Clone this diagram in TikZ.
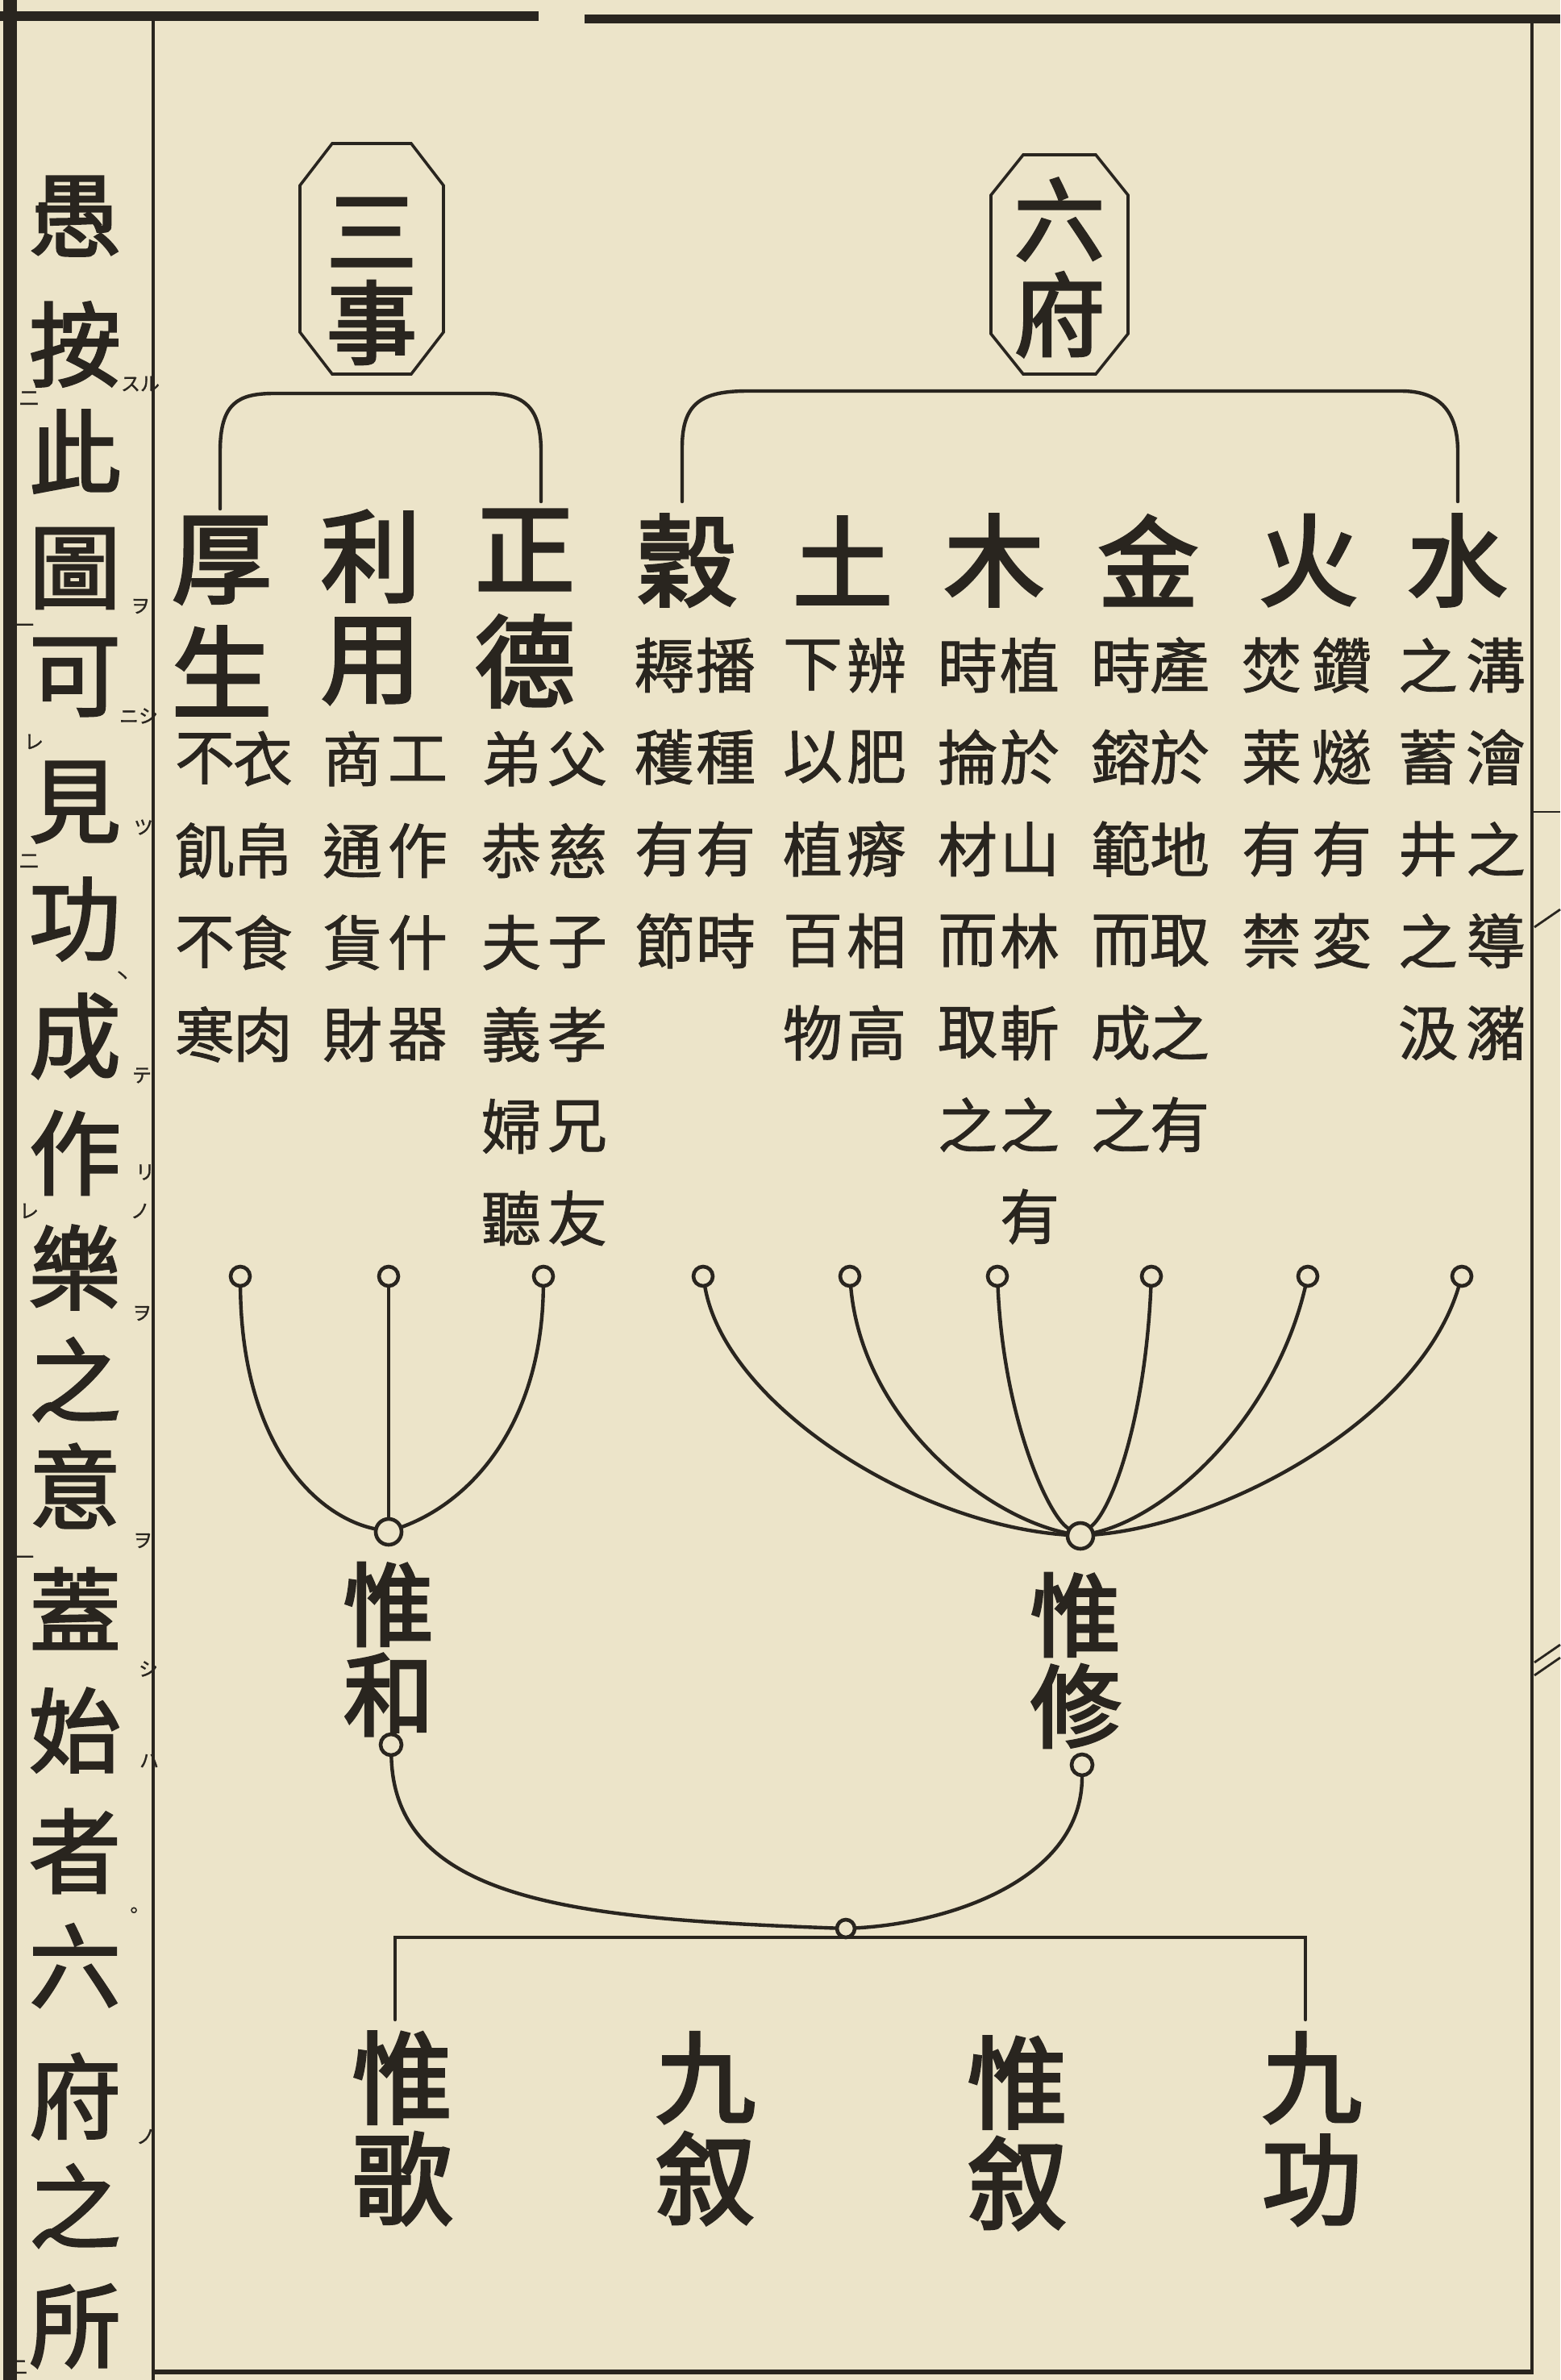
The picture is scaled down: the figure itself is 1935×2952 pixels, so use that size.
\documentclass[tikz,border=0pt]{standalone}
\usepackage{fontspec}
\newfontfamily\cjk[FakeBold=1.2]{Noto Sans CJK TC}
\newfontfamily\cjkb[FakeBold=3]{Noto Sans CJK TC}
\newfontfamily\cjkl[FakeBold=2.2]{Noto Sans CJK TC}
\definecolor{paper}{HTML}{ECE4C9}
\definecolor{inkc}{HTML}{29251F}
\newcommand\vcolumn[5]{%
  \foreach \ch [count=\k] in {#5} {\node[sm] (#1\k) at (#2,{#3+(\k-1)*#4}) {\ch};}}
\begin{document}
\begin{tikzpicture}[x=0.5pt,y=-0.5pt,
  ink/.style={draw=inkc,line width=2.2pt,line cap=round},
  rule/.style={draw=inkc,line width=2pt},
  big/.style={font=\cjkb\fontsize{62}{62}\selectfont,text=inkc,inner sep=0},
  mid/.style={font=\cjkb\fontsize{56}{56}\selectfont,text=inkc,inner sep=0},
  lft/.style={font=\cjkl\fontsize{57}{57}\selectfont,text=inkc,inner sep=0},
  boxt/.style={font=\cjkb\fontsize{56}{56}\selectfont,text=inkc,inner sep=0},
  sm/.style={font=\cjk\fontsize{37}{37}\selectfont,text=inkc,inner sep=0},
  kt/.style={font=\cjk\fontsize{12}{12}\selectfont,text=inkc,inner sep=0},
  pinc/.style={circle,draw=inkc,line width=2.3pt,minimum size=12pt,inner sep=0,fill=paper},
  hubc/.style={circle,draw=inkc,line width=2.3pt,minimum size=16pt,inner sep=0,fill=paper},
  subc/.style={circle,draw=inkc,line width=2.3pt,minimum size=13pt,inner sep=0,fill=paper}]
\useasboundingbox (0,0) rectangle (1935,2952);
\fill[paper] (0,0) rectangle (1935,2952);
% frame
\fill[inkc] (4,0) rectangle (21,2952);
\fill[inkc] (0,14) rectangle (668,26);
\fill[inkc] (725,18) rectangle (1935,29);
\draw[rule] (190,20) -- (190,2952);
\draw[rule] (1900,25) -- (1900,2945);
\draw[draw=inkc,line width=3pt] (190,2942) -- (1900,2942);
% marks from the next page
\draw[rule,line width=1.4pt] (1900,1007) -- (1935,1007);
\draw[rule,line width=1.4pt] (1903,1150) -- (1935,1128);
\draw[rule,line width=1.4pt] (1903,2062) -- (1935,2040);
\draw[rule,line width=1.4pt] (1903,2078) -- (1935,2056);
% left column text
\foreach \ch/\yy [count=\k] in {愚/268,按/427,此/560,圖/705,可/840,見/995,功/1140,成/1285,作/1430,樂/1572,之/1711,意/1843,蓋/1995,始/2146,者/2296,六/2438,府/2600,之/2736,所/2885}
  {\node[lft] (L\k) at (93,\yy) {\ch};}
\foreach \t/\xx/\yy [count=\k] in {スル/174/476,二/36/494,ヲ/174/752,一/30/779,ニシ/172/888,レ/42/920,ツ/178/1026,二/36/1068,丶/152/1212,テ/176/1334,リ/180/1454,ノ/174/1502,レ/36/1502,ヲ/176/1629,ヲ/177/1911,一/30/1935,シ/184/2070,ハ/185/2184,。/166/2372,ノ/181/2650,二/22/2936}
  {\node[kt] (K\k) at (\xx,\yy) {\t};}
% boxes
\draw[draw=inkc,line width=1.8pt] (412,178) -- (510,178) -- (550,230) -- (550,412) -- (510,464) -- (412,464) -- (372,412) -- (372,230) -- cycle;
\node[boxt] (sanA) at (461,288) {三};
\node[boxt] (sanB) at (461,400) {事};
\draw[draw=inkc,line width=1.8pt] (1269,192) -- (1359,192) -- (1399,242) -- (1399,414) -- (1359,464) -- (1269,464) -- (1229,414) -- (1229,242) -- cycle;
\node[boxt] (liuA) at (1314,272) {六};
\node[boxt] (liuB) at (1314,390) {府};
% brackets
\coordinate (s1) at (273,631);
\coordinate (s2) at (671,622);
\draw[ink] (s1) -- (273,560) .. controls (273,500) and (295,488) .. (340,488) -- (605,488) .. controls (650,488) and (671,505) .. (671,560) -- (s2);
\coordinate (f1) at (846,622);
\coordinate (f2) at (1808,622);
\draw[ink] (f1) -- (846,555) .. controls (846,500) and (870,485) .. (927,485) -- (1738,485) .. controls (1785,485) and (1808,510) .. (1808,560) -- (f2);
% three affairs
\node[big] (hou1) at (275,695) {厚};
\node[big] (hou2) at (275,832) {生};
\node[big] (li1) at (460,690) {利};
\node[big] (li2) at (460,820) {用};
\node[big] (zh1) at (651,682) {正};
\node[big] (zh2) at (651,820) {德};
\vcolumn{houR}{326}{941}{114}{衣,帛,食,肉}
\vcolumn{houL}{254}{941}{114}{不,飢,不,寒}
\vcolumn{liR}{518}{941}{114}{工,作,什,器}
\vcolumn{liL}{437}{941}{114}{商,通,貨,財}
\vcolumn{zhR}{716}{941}{114}{父,慈,子,孝,兄,友}
\vcolumn{zhL}{634}{941}{114}{弟,恭,夫,義,婦,聽}
% six stores
\node[big] (gu) at (852,695) {穀};
\node[big] (tu) at (1045,695) {土};
\node[big] (mu) at (1233,695) {木};
\node[big] (jin) at (1424,695) {金};
\node[big] (huo) at (1623,695) {火};
\node[big] (shui) at (1807,695) {水};
\vcolumn{guR}{900}{825}{114}{播,種,有,時}
\vcolumn{guL}{824}{825}{114}{耨,穫,有,節}
\vcolumn{tuR}{1087}{825}{114}{辨,肥,瘠,相,高}
\vcolumn{tuL}{1008}{825}{114}{下,以,植,百,物}
\vcolumn{muR}{1277}{825}{114}{植,於,山,林,斬,之,有}
\vcolumn{muL}{1200}{825}{114}{時,掄,材,而,取,之}
\vcolumn{jinR}{1463}{825}{114}{產,於,地,取,之,有}
\vcolumn{jinL}{1390}{825}{114}{時,鎔,範,而,成,之}
\vcolumn{huoR}{1664}{825}{114}{鑽,燧,有,変}
\vcolumn{huoL}{1577}{825}{114}{焚,莱,有,禁}
\vcolumn{shR}{1855}{825}{114}{溝,澮,之,導,瀦}
\vcolumn{shL}{1771}{825}{114}{之,蓄,井,之,汲}
% pins and hubs
\node[hubc] (hubH) at (482,1900) {};
\node[hubc] (hubX) at (1340,1905) {};
\node[pinc] (pA) at (298,1583) {};
\node[pinc] (pB) at (482,1583) {};
\node[pinc] (pC) at (674,1583) {};
\draw[ink] (pA) .. controls (300,1790) and (390,1880) .. (hubH);
\draw[ink] (pB) -- (hubH);
\draw[ink] (pC) .. controls (672,1760) and (590,1860) .. (hubH);
\node[pinc] (q1) at (872,1583) {};
\node[pinc] (q2) at (1054,1583) {};
\node[pinc] (q3) at (1237,1583) {};
\node[pinc] (q4) at (1428,1583) {};
\node[pinc] (q5) at (1622,1583) {};
\node[pinc] (q6) at (1813,1583) {};
\draw[ink] (q1) .. controls (900,1740) and (1130,1890) .. (hubX);
\draw[ink] (q2) .. controls (1070,1760) and (1220,1880) .. (hubX);
\draw[ink] (q3) .. controls (1245,1760) and (1300,1880) .. (hubX);
\draw[ink] (q4) .. controls (1420,1760) and (1380,1870) .. (hubX);
\draw[ink] (q5) .. controls (1580,1760) and (1450,1880) .. (hubX);
\draw[ink] (q6) .. controls (1760,1760) and (1520,1890) .. (hubX);
\node[mid] (weiA) at (482,1990) {惟};
\node[mid] (heA) at (482,2102) {和};
\node[mid] (weiB) at (1334,2003) {惟};
\node[mid] (xiuB) at (1334,2116) {修};
\node[subc] (wA) at (485,2164) {};
\node[subc] (xA) at (1342,2189) {};
% lower junction
\coordinate (H) at (1049,2403);
\coordinate (E1) at (490,2505);
\coordinate (E2) at (1619,2505);
\draw[ink] (E1) -- (E1 |- H) -- (E2 |- H) -- (E2);
\node[subc,minimum size=11pt] (j3) at (1049,2392) {};
\draw[ink] (wA) .. controls (490,2360) and (720,2380) .. (j3);
\draw[ink] (xA) .. controls (1342,2330) and (1180,2385) .. (j3);
% bottom
\node[big] (b1a) at (499,2577) {惟};
\node[big] (b1b) at (499,2702) {歌};
\node[big] (b2a) at (875,2577) {九};
\node[big] (b2b) at (875,2702) {叙};
\node[big] (b3a) at (1262,2583) {惟};
\node[big] (b3b) at (1262,2708) {叙};
\node[big] (b4a) at (1627,2577) {九};
\node[big] (b4b) at (1627,2704) {功};
\end{tikzpicture}
\end{document}
